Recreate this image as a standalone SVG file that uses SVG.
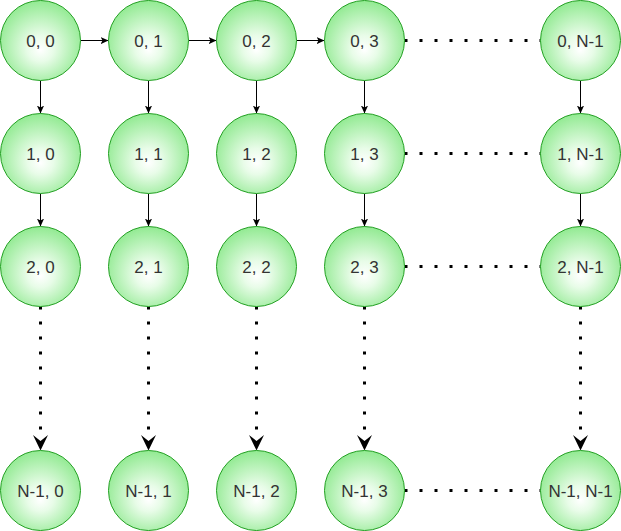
<svg xmlns="http://www.w3.org/2000/svg" width="621" height="531" viewBox="0 0 621 531">
<defs>
<radialGradient id="g" cx="50%" cy="55%" r="55%" fx="50%" fy="62%">
<stop offset="0" stop-color="#ffffff"/>
<stop offset="0.3" stop-color="#e8fce8"/>
<stop offset="1" stop-color="#92ea92"/>
</radialGradient>
<marker id="a" viewBox="0 0 10 10" refX="10" refY="5" markerWidth="8" markerHeight="8" markerUnits="userSpaceOnUse" orient="auto">
<path d="M0,0.5 L10,5 L0,9.5 L2.5,5 Z" fill="#000"/>
</marker>
</defs>
<style>
.n circle{fill:url(#g);stroke:#22a022;stroke-width:1}
.n text{font-family:"Liberation Sans",Arial,sans-serif;font-size:17px;fill:#333333;text-anchor:middle}
.s{stroke:#000;stroke-width:1;fill:none;marker-end:url(#a)}
.d{stroke:#000;stroke-width:3;fill:none;stroke-dasharray:3 12}
</style>
<g id="connectors">
<path class="s" d="M80.5,40.5 H108.5"/>
<path class="s" d="M188.5,40.5 H216.5"/>
<path class="s" d="M296.5,40.5 H324.5"/>
<path class="s" d="M40.5,80.5 V113.5"/>
<path class="s" d="M148.5,80.5 V113.5"/>
<path class="s" d="M256.5,80.5 V113.5"/>
<path class="s" d="M364.5,80.5 V113.5"/>
<path class="s" d="M580.5,80.5 V113.5"/>
<path class="s" d="M40.5,193.5 V226.5"/>
<path class="s" d="M148.5,193.5 V226.5"/>
<path class="s" d="M256.5,193.5 V226.5"/>
<path class="s" d="M364.5,193.5 V226.5"/>
<path class="s" d="M580.5,193.5 V226.5"/>
<path class="d" d="M404.5,40.5 H540.5"/>
<path class="d" d="M404.5,153.5 H540.5"/>
<path class="d" d="M404.5,266.5 H540.5"/>
<path class="d" d="M404.5,490.5 H540.5"/>
<g fill="#000">
<path class="d" d="M40.5,306.5 V440"/>
<path d="M33,435 L40.5,450.5 L48,435 L40.5,441 Z"/>
<path class="d" d="M148.5,306.5 V440"/>
<path d="M141,435 L148.5,450.5 L156,435 L148.5,441 Z"/>
<path class="d" d="M256.5,306.5 V440"/>
<path d="M249,435 L256.5,450.5 L264,435 L256.5,441 Z"/>
<path class="d" d="M364.5,306.5 V440"/>
<path d="M357,435 L364.5,450.5 L372,435 L364.5,441 Z"/>
<path class="d" d="M580.5,306.5 V440"/>
<path d="M573,435 L580.5,450.5 L588,435 L580.5,441 Z"/>
</g>
</g>
<g id="n00" class="n"><circle cx="40.5" cy="40.5" r="40"/><text x="40.5" y="46.5">0, 0</text></g>
<g id="n01" class="n"><circle cx="148.5" cy="40.5" r="40"/><text x="148.5" y="46.5">0, 1</text></g>
<g id="n02" class="n"><circle cx="256.5" cy="40.5" r="40"/><text x="256.5" y="46.5">0, 2</text></g>
<g id="n03" class="n"><circle cx="364.5" cy="40.5" r="40"/><text x="364.5" y="46.5">0, 3</text></g>
<g id="n0N" class="n"><circle cx="580.5" cy="40.5" r="40"/><text x="580.5" y="46.5">0, N-1</text></g>
<g id="n10" class="n"><circle cx="40.5" cy="153.5" r="40"/><text x="40.5" y="159.5">1, 0</text></g>
<g id="n11" class="n"><circle cx="148.5" cy="153.5" r="40"/><text x="148.5" y="159.5">1, 1</text></g>
<g id="n12" class="n"><circle cx="256.5" cy="153.5" r="40"/><text x="256.5" y="159.5">1, 2</text></g>
<g id="n13" class="n"><circle cx="364.5" cy="153.5" r="40"/><text x="364.5" y="159.5">1, 3</text></g>
<g id="n1N" class="n"><circle cx="580.5" cy="153.5" r="40"/><text x="580.5" y="159.5">1, N-1</text></g>
<g id="n20" class="n"><circle cx="40.5" cy="266.5" r="40"/><text x="40.5" y="272.5">2, 0</text></g>
<g id="n21" class="n"><circle cx="148.5" cy="266.5" r="40"/><text x="148.5" y="272.5">2, 1</text></g>
<g id="n22" class="n"><circle cx="256.5" cy="266.5" r="40"/><text x="256.5" y="272.5">2, 2</text></g>
<g id="n23" class="n"><circle cx="364.5" cy="266.5" r="40"/><text x="364.5" y="272.5">2, 3</text></g>
<g id="n2N" class="n"><circle cx="580.5" cy="266.5" r="40"/><text x="580.5" y="272.5">2, N-1</text></g>
<g id="nN0" class="n"><circle cx="40.5" cy="490.5" r="40"/><text x="40.5" y="496.5">N-1, 0</text></g>
<g id="nN1" class="n"><circle cx="148.5" cy="490.5" r="40"/><text x="148.5" y="496.5">N-1, 1</text></g>
<g id="nN2" class="n"><circle cx="256.5" cy="490.5" r="40"/><text x="256.5" y="496.5">N-1, 2</text></g>
<g id="nN3" class="n"><circle cx="364.5" cy="490.5" r="40"/><text x="364.5" y="496.5">N-1, 3</text></g>
<g id="nNN" class="n"><circle cx="580.5" cy="490.5" r="40"/><text x="580.5" y="496.5">N-1, N-1</text></g>
</svg>
